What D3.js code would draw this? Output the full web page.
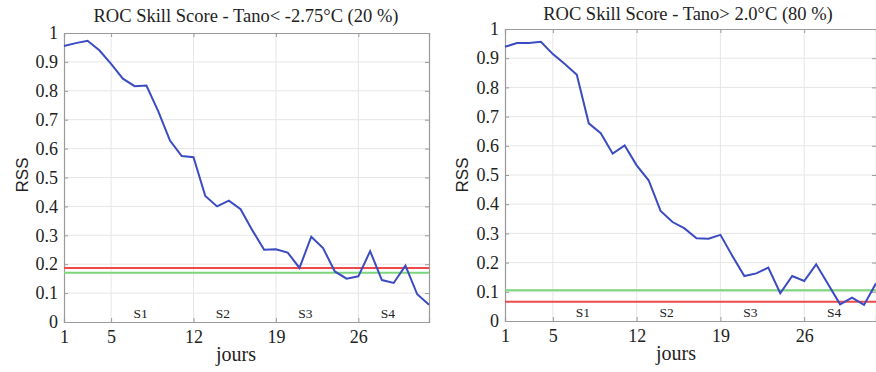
<!DOCTYPE html>
<html>
<head>
<meta charset="utf-8">
<script src="https://cdn.jsdelivr.net/npm/d3@7"></script>
<style>
  body { margin: 0; background: #fff; }
  svg { display: block; }
</style>
</head>
<body>
<div id="chart"></div>
<script>

// days 1..32
const days = d3.range(1, 33);

const rssCold = [0.955, 0.965, 0.973, 0.94, 0.893, 0.842, 0.816, 0.818, 0.73, 0.628,
  0.574, 0.57, 0.436, 0.40, 0.42, 0.39, 0.317, 0.25, 0.252, 0.24,
  0.187, 0.295, 0.256, 0.175, 0.15, 0.158, 0.245, 0.145, 0.135, 0.195,
  0.096, 0.06];

const rssWarm = [0.939, 0.952, 0.952, 0.956, 0.914, 0.88, 0.843, 0.677, 0.643, 0.573,
  0.601, 0.533, 0.482, 0.377, 0.339, 0.317, 0.283, 0.282, 0.295, 0.223,
  0.154, 0.163, 0.183, 0.095, 0.154, 0.137, 0.194, 0.126, 0.057, 0.08,
  0.055, 0.129];

const titles = ["ROC Skill Score - Tano< -2.75°C (20 %)", "ROC Skill Score - Tano> 2.0°C (80 %)"];
const redLevels = [0.187, 0.066];
const greenLevels = [0.17, 0.105];

const xTicks = [1, 5, 12, 19, 26];
const yTicks = d3.range(0, 11).map(d => d / 10);
const weekLabels = ["S1", "S2", "S3", "S4"];
const weekPos = [7.5, 14.5, 21.5, 28.5];

const width = 876;
const height = 372;
const serif = "'Liberation Serif', 'DejaVu Serif', serif";

const svg = d3.select("#chart")
  .append("svg")
  .attr("width", width)
  .attr("height", height);

/*
 one panel per threshold
*/
const panels = [
  { values: rssCold, title: titles[0], red: redLevels[0], green: greenLevels[0],
    left: 64, right: 429, top: 33, bottom: 322, titleY: 22, titleX: 246, ylabX: 22, jx: 236 },
  { values: rssWarm, title: titles[1], red: redLevels[1], green: greenLevels[1],
    left: 505, right: 876, top: 29, bottom: 321, titleY: 20, titleX: 688, ylabX: 462, jx: 676 }
];

panels.forEach(function (p) {

  const xScale = d3.scaleLinear()
    .domain([1, 32])
    .range([p.left, p.right]);

  const yScale = d3.scaleLinear()
    .domain([0, 1])
    .range([p.bottom, p.top]);

  const g = svg.append("g");

  // grid
  g.append("g")
    .selectAll("line")
    .data(xTicks.slice(1))
    .enter()
    .append("line")
    .attr("x1", d => xScale(d)).attr("x2", d => xScale(d))
    .attr("y1", p.top).attr("y2", p.bottom)
    .attr("stroke", "#e6e6e6").attr("stroke-width", 1);

  g.append("g")
    .selectAll("line")
    .data(yTicks.slice(1, 10))
    .enter()
    .append("line")
    .attr("x1", p.left).attr("x2", p.right)
    .attr("y1", d => yScale(d)).attr("y2", d => yScale(d))
    .attr("stroke", "#e6e6e6").attr("stroke-width", 1);

  // axes (ticks pointing inward, matlab style)
  g.append("g")
    .attr("transform", `translate(0,${p.bottom})`)
    .call(d3.axisBottom(xScale).tickValues(xTicks).tickSize(-4).tickPadding(8));

  g.append("g")
    .attr("transform", `translate(${p.left},0)`)
    .call(d3.axisLeft(yScale).tickValues(yTicks).tickSize(-4).tickPadding(6)
      .tickFormat(d => d === 0 ? "0" : d === 1 ? "1" : d3.format(".1f")(d)));

  g.append("g")
    .attr("transform", `translate(0,${p.top})`)
    .call(d3.axisTop(xScale).tickValues(xTicks).tickSize(-4).tickFormat(""));

  g.append("g")
    .attr("transform", `translate(${p.right},0)`)
    .call(d3.axisRight(yScale).tickValues(yTicks).tickSize(-4).tickFormat(""));

  g.selectAll(".domain").attr("stroke", "#9a9a9a").attr("stroke-width", 1.2);
  g.selectAll(".tick line").attr("stroke", "#9a9a9a");
  g.selectAll(".tick text")
    .style("font-family", serif)
    .style("font-size", "18px")
    .attr("fill", "#222");

  // threshold lines
  g.append("line")
    .attr("x1", p.left).attr("x2", p.right)
    .attr("y1", yScale(p.green)).attr("y2", yScale(p.green))
    .attr("stroke", "#7bd67b").attr("stroke-width", 2);

  g.append("line")
    .attr("x1", p.left).attr("x2", p.right)
    .attr("y1", yScale(p.red)).attr("y2", yScale(p.red))
    .attr("stroke", "#ee4a4a").attr("stroke-width", 2);

  // RSS curve
  const line = d3.line()
    .x(function (d, i) { return xScale(days[i]); })
    .y(function (d) { return yScale(d); });

  g.append("path")
    .datum(p.values)
    .attr("d", line)
    .attr("fill", "none")
    .attr("stroke", "#3b4bc2")
    .attr("stroke-width", 2);

  // week labels
  g.selectAll("text.week")
    .data(weekLabels)
    .enter()
    .append("text")
    .attr("class", "week")
    .attr("x", (d, i) => xScale(weekPos[i]))
    .attr("y", yScale(0.03) + 5)
    .attr("text-anchor", "middle")
    .style("font-family", serif)
    .style("font-size", "13.5px")
    .attr("fill", "#222")
    .text(d => d);

  // titles and axis labels
  g.append("text")
    .attr("x", p.titleX)
    .attr("y", p.titleY)
    .attr("text-anchor", "middle")
    .style("font-family", serif)
    .style("font-size", "18.5px")
    .attr("fill", "#222")
    .text(p.title);

  g.append("text")
    .attr("x", p.jx)
    .attr("y", p.bottom + 39)
    .attr("text-anchor", "middle")
    .style("font-family", serif)
    .style("font-size", "20px")
    .attr("fill", "#222")
    .text("jours");

  g.append("text")
    .attr("transform", `translate(${p.ylabX},175) rotate(-90)`)
    .attr("text-anchor", "middle")
    .attr("dy", "0.35em")
    .style("font-family", "'Liberation Sans', Arial, sans-serif")
    .style("font-size", "17px")
    .attr("fill", "#222")
    .text("RSS");
});

</script>
</body>
</html>
